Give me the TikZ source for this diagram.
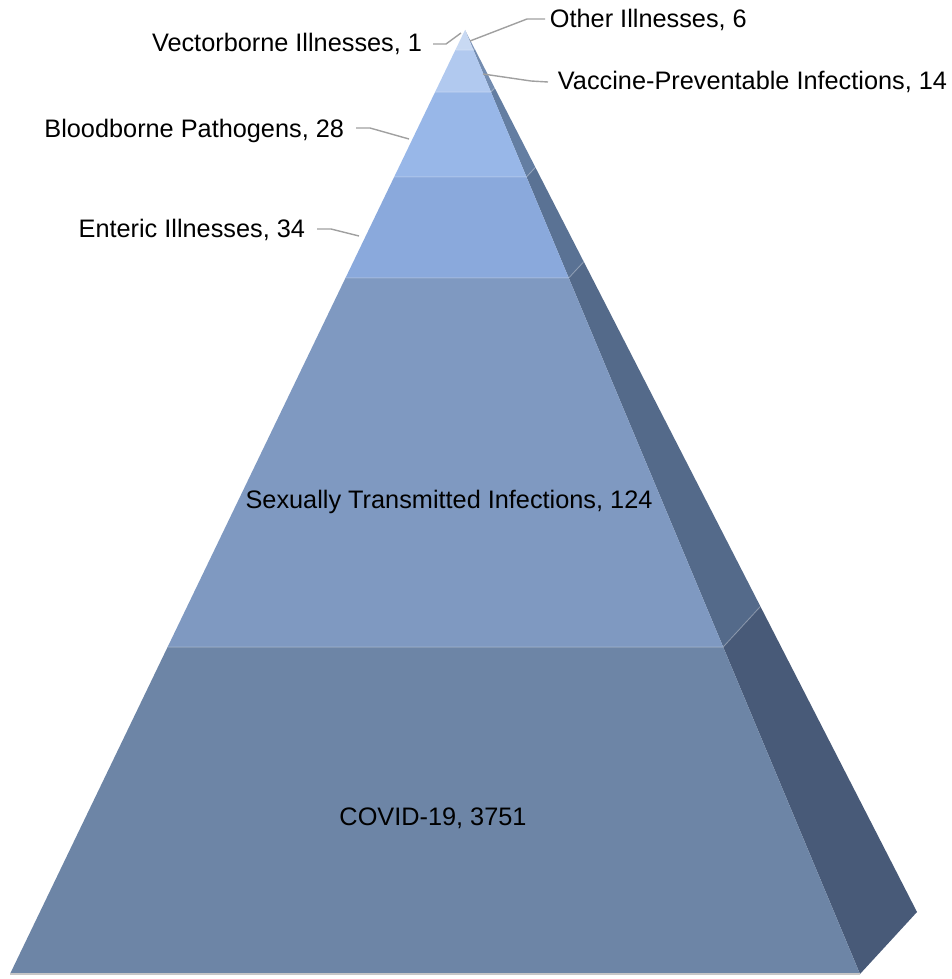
\documentclass[tikz,border=0pt]{standalone}
\usepackage{fontspec}
\setmainfont{Liberation Sans}
\usetikzlibrary{calc}

\definecolor{bandA}{RGB}{200,217,243}
\definecolor{bandB}{RGB}{177,201,239}
\definecolor{bandC}{RGB}{152,183,232}
\definecolor{bandD}{RGB}{138,169,220}
\definecolor{bandE}{RGB}{127,153,193}
\definecolor{bandF}{RGB}{109,133,166}
\definecolor{sideA}{RGB}{130,152,188}
\definecolor{sideB}{RGB}{115,140,176}
\definecolor{sideC}{RGB}{100,126,162}
\definecolor{sideD}{RGB}{90,114,148}
\definecolor{sideE}{RGB}{84,106,138}
\definecolor{sideF}{RGB}{72,90,120}
\definecolor{leadgray}{RGB}{160,160,160}

\begin{document}
\begin{tikzpicture}[x=1pt,y=-1pt,
    lbl/.style={inner sep=0.75pt,font=\fontsize{25.3}{29}\selectfont},
    leader/.style={draw=leadgray,line width=1.4pt},
    seam/.style={draw=white,draw opacity=0.25,line width=1pt}]
        \useasboundingbox (0,0) rectangle (951,979);

        % corners of the pyramid
        \coordinate (apex) at (465,30);
        \coordinate (fl) at (10,974);
        \coordinate (fr) at (860,974);
        \coordinate (bk) at (917,912);

        % band boundaries (fraction of the height)
        \coordinate (l1) at ($(apex)!0.0212!(fl)$);  \coordinate (r1) at ($(apex)!0.0212!(fr)$);  \coordinate (b1) at ($(apex)!0.0212!(bk)$);
        \coordinate (l2) at ($(apex)!0.0657!(fl)$);  \coordinate (r2) at ($(apex)!0.0657!(fr)$);  \coordinate (b2) at ($(apex)!0.0657!(bk)$);
        \coordinate (l3) at ($(apex)!0.1557!(fl)$);  \coordinate (r3) at ($(apex)!0.1557!(fr)$);  \coordinate (b3) at ($(apex)!0.1557!(bk)$);
        \coordinate (l4) at ($(apex)!0.2627!(fl)$);  \coordinate (r4) at ($(apex)!0.2627!(fr)$);  \coordinate (b4) at ($(apex)!0.2627!(bk)$);
        \coordinate (l5) at ($(apex)!0.6536!(fl)$);  \coordinate (r5) at ($(apex)!0.6536!(fr)$);  \coordinate (b5) at ($(apex)!0.6536!(bk)$);

        %Side face
        \fill [sideA] (apex) -- (r1) -- (b1) -- cycle;
        \fill [sideB] (r1) -- (r2) -- (b2) -- (b1) -- cycle;
        \fill [sideC] (r2) -- (r3) -- (b3) -- (b2) -- cycle;
        \fill [sideD] (r3) -- (r4) -- (b4) -- (b3) -- cycle;
        \fill [sideE] (r4) -- (r5) -- (b5) -- (b4) -- cycle;
        \fill [sideF] (r5) -- (fr) -- (bk) -- (b5) -- cycle;

        %Front face
        \fill [bandA] (apex) -- (r1) -- (l1) -- cycle;
        \fill [bandB] (l1) -- (r1) -- (r2) -- (l2) -- cycle;
        \fill [bandC] (l2) -- (r2) -- (r3) -- (l3) -- cycle;
        \fill [bandD] (l3) -- (r3) -- (r4) -- (l4) -- cycle;
        \fill [bandE] (l4) -- (r4) -- (r5) -- (l5) -- cycle;
        \fill [bandF] (l5) -- (r5) -- (fr) -- (fl) -- cycle;

        % seams between bands
        \draw [seam] (l1) -- (r1) -- (b1);
        \draw [seam] (l2) -- (r2) -- (b2);
        \draw [seam] (l3) -- (r3) -- (b3);
        \draw [seam] (l4) -- (r4) -- (b4);
        \draw [seam] (l5) -- (r5) -- (b5);
        \draw [gray!45,line width=1.2pt] (fl) -- (fr);

        % Text Nodes inside
        \node [lbl] (sti) at (449,502) {Sexually Transmitted Infections, 124};
        \node [lbl] (covid) at (433,818) {COVID-19, 3751};

        % Text Nodes outside, with leaders
        \node [lbl,anchor=west] (other) at (549,20) {Other Illnesses, 6};
        \node [lbl,anchor=east] (vector) at (423,44) {Vectorborne Illnesses, 1};
        \node [lbl,anchor=west] (vaccine) at (557,82) {Vaccine-Preventable Infections, 14};
        \node [lbl,anchor=east] (blood) at (345,131) {Bloodborne Pathogens, 28};
        \node [lbl,anchor=east] (enteric) at (306,230) {Enteric Illnesses, 34};

        \coordinate (pOther) at (470,41);
        \coordinate (pVector) at (461,33);
        \coordinate (pVaccine) at (483,74);
        \coordinate (pBlood) at (409,139);
        \coordinate (pEnteric) at (359,236);

        \draw [leader] (other.west) ++(-4,-1) -- ++(-18,0) -- (pOther);
        \draw [leader] (vector.east) ++(10,0) -- ++(13,0) -- (pVector);
        \draw [leader] (vaccine.west) ++(-9,0) -- ++(-17,-1) -- (pVaccine);
        \draw [leader] (blood.east) ++(11,-3) -- ++(14,0) -- (pBlood);
        \draw [leader] (enteric.east) ++(11,-1) -- ++(14,0) -- (pEnteric);

\end{tikzpicture}
\end{document}
